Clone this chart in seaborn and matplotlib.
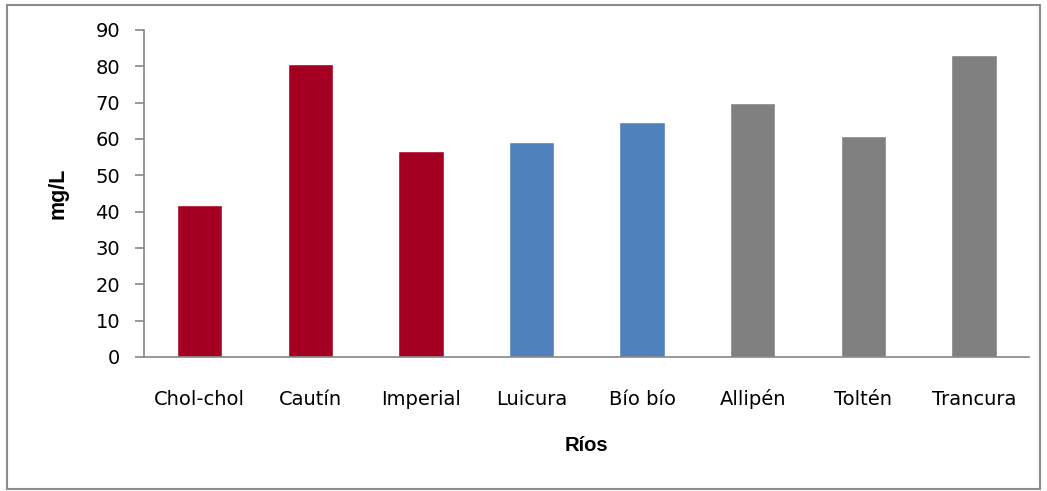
import matplotlib
matplotlib.use("Agg")
import matplotlib.pyplot as plt
import pandas as pd
import seaborn as sns
from matplotlib.patches import Rectangle

rios = ["Chol-chol", "Cautín", "Imperial", "Luicura", "Bío bío", "Allipén", "Toltén", "Trancura"]
valores = [41.8, 80.7, 56.7, 59.1, 64.7, 69.9, 60.8, 83.1]
grupos = ["a", "a", "a", "b", "b", "c", "c", "c"]
colores = {"a": "#A50021", "b": "#4F81BD", "c": "#808080"}

df = pd.DataFrame({"rio": rios, "valor": valores, "grupo": grupos})

sns.set_style("white")
plt.rcParams["font.family"] = ["DejaVu Sans"]
plt.rcParams["text.color"] = "black"
plt.rcParams["axes.labelcolor"] = "black"

fig = plt.figure(figsize=(10.47, 4.91), dpi=100)
ax = fig.add_axes([0.138, 0.273, 0.845, 0.666])

sns.barplot(data=df, x="rio", y="valor", hue="grupo", palette=colores,
            dodge=False, width=0.41, legend=False, saturation=1, ax=ax)

ax.set_ylim(0, 90)
ax.set_yticks(range(0, 91, 10))
ax.set_xlim(-0.5, len(rios) - 0.5)

ax.set_xlabel("Ríos", fontsize=14.5, fontweight="bold", family="Liberation Sans", va="center")
ax.xaxis.set_label_coords(0.5, -0.272)
ax.set_ylabel("mg/L", fontsize=15.5, fontweight="bold", family="Liberation Sans", va="center")
ax.yaxis.set_label_coords(-0.098, 0.5)

for s in ["top", "right"]:
    ax.spines[s].set_visible(False)
for s in ["left", "bottom"]:
    ax.spines[s].set_color("#868686")
    ax.spines[s].set_linewidth(1.2)

ax.tick_params(axis="y", direction="out", length=6.5, color="#868686", width=1.2,
               labelsize=14, pad=11, left=True, labelcolor="black")
ax.tick_params(axis="x", length=0, labelsize=14, pad=34.5, labelcolor="black")
for lbl in ax.get_xticklabels():
    lbl.set_verticalalignment("baseline")

fig.patches.append(Rectangle((0.007, 0.004), 0.986, 0.986, transform=fig.transFigure,
                             fill=False, edgecolor="#8c8c8c", linewidth=1.5))

fig.savefig("out.png", dpi=100)
